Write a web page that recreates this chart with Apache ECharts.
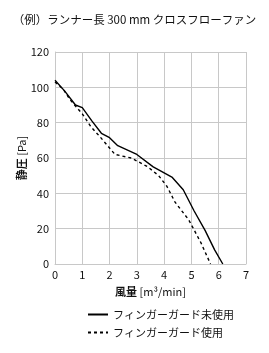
<!DOCTYPE html>
<html><head><meta charset="utf-8">
<script src="https://cdn.jsdelivr.net/npm/echarts@6/dist/echarts.min.js"></script>
<style>html,body{margin:0;padding:0;background:#fff}#c{width:269px;height:353px}</style>
</head><body><div id="c"></div>
<script>
var titleText = '（例）ランナー長 300 mm クロスフローファン';
var xNameBold = '風量', xNameRest = ' [m³/min]';
var yNameBold = '静圧', yNameRest = ' [Pa]';
var seriesNames = ['フィンガーガード未使用', 'フィンガーガード使用'];
var solidX = [0, 0.35, 0.75, 1.0, 1.35, 1.7, 2.0, 2.3, 3.0, 3.6, 4.3, 4.7, 5.1, 5.5, 5.85, 6.15];
var solidY = [104, 98, 90, 88.5, 81, 74, 71.5, 67, 62, 55, 49, 42, 30, 19, 8, 0];
var dashedX = [0, 0.3, 0.55, 1.0, 1.3, 1.65, 2.2, 2.8, 3.4, 3.8, 4.1, 4.4, 4.9, 5.35, 5.7];
var dashedY = [103, 99, 93, 85, 78, 72, 62, 60, 55, 50, 44, 35, 25, 12, 0];
var xTicks = {min: 0, max: 7, interval: 1};
var yTicks = {min: 0, max: 120, interval: 20};

function pairs(xs, ys) { return xs.map(function (x, i) { return [x, ys[i]]; }); }

var font = '"Noto Sans CJK JP", "Noto Sans", sans-serif';
var nameStyle = {
  fontSize: 11, color: '#111', fontFamily: font,
  rich: {b: {fontSize: 11, fontWeight: 'bold', color: '#111', fontFamily: font},
         n: {fontSize: 11, color: '#111', fontFamily: font}}
};
var chart = echarts.init(document.getElementById('c'), null, {renderer: 'canvas'});
chart.setOption({
  animation: false,
  textStyle: {fontFamily: font},
  title: {
    text: titleText, left: 'center', top: 9,
    textStyle: {fontSize: 11.5, fontWeight: 'normal', color: '#111', fontFamily: font}
  },
  grid: {left: 55, right: 23, top: 52, bottom: 89},
  xAxis: {
    type: 'value', min: xTicks.min, max: xTicks.max, interval: xTicks.interval,
    name: '{b|' + xNameBold + '}{n|' + xNameRest + '}', nameLocation: 'middle', nameGap: 22,
    nameMoveOverlap: false,
    nameTextStyle: nameStyle,
    axisLine: {show: true, lineStyle: {color: '#c8c8c8', width: 1}},
    axisTick: {show: false},
    axisLabel: {fontSize: 11, color: '#111', margin: 5},
    splitLine: {show: true, lineStyle: {color: '#c8c8c8', width: 1}}
  },
  yAxis: {
    type: 'value', min: yTicks.min, max: yTicks.max, interval: yTicks.interval,
    name: '{b|' + yNameBold + '}{n|' + yNameRest + '}', nameLocation: 'middle', nameGap: 28, nameRotate: 90,
    nameMoveOverlap: false,
    nameTextStyle: nameStyle,
    axisLine: {show: true, lineStyle: {color: '#c8c8c8', width: 1}},
    axisTick: {show: false},
    axisLabel: {fontSize: 11, color: '#111', margin: 6},
    splitLine: {show: true, lineStyle: {color: '#c8c8c8', width: 1}}
  },
  legend: {
    orient: 'vertical', left: 82, top: 304, itemWidth: 20, itemHeight: 10, itemGap: 7,
    itemStyle: {opacity: 0},
    textStyle: {fontSize: 11, color: '#111', fontFamily: font},
    data: seriesNames
  },
  series: [
    {name: seriesNames[0], type: 'line', data: pairs(solidX, solidY), symbol: 'none',
     lineStyle: {color: '#000', width: 1.4, type: 'solid'}, itemStyle: {color: '#000'}},
    {name: seriesNames[1], type: 'line', data: pairs(dashedX, dashedY), symbol: 'none',
     lineStyle: {color: '#000', width: 1.4, type: [3, 3]}, itemStyle: {color: '#000'}}
  ]
});
</script></body></html>
